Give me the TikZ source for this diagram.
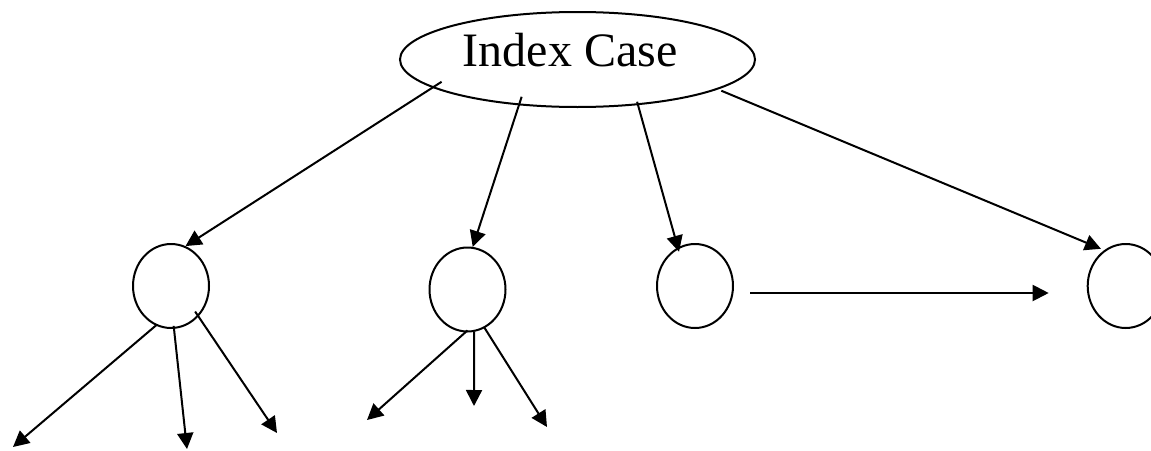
\documentclass[tikz,border=0pt]{standalone}
\usepackage{fontspec}
\setmainfont{Liberation Serif}
\usetikzlibrary{arrows.meta,shapes.geometric}
\begin{document}
\begin{tikzpicture}[x=1pt,y=-1pt,
  arr/.style={draw, line width=2pt, -{Triangle[length=16pt,width=16pt]}},
  bub/.style={draw, ellipse, line width=2pt, minimum width=76pt, minimum height=84pt, inner sep=0pt},
  topcase/.style={draw, ellipse, line width=2pt, minimum width=355pt, minimum height=95pt, inner sep=0pt},
  lbl/.style={font=\fontsize{48}{58}\selectfont, anchor=base, inner sep=0pt}]
\useasboundingbox (0,0) rectangle (1151,450);
\node[topcase] (ic) at (577.5,59.5) {};
\node[lbl] (ict) at (570,66.7) {Index Case};
\node[bub] (c1) at (171,286) {};
\node[bub] (c2) at (467.5,289.5) {};
\node[bub] (c3) at (695,286) {};
\node[bub] (c4) at (1125.7,286) {};
\coordinate (e1) at (13,447);
\coordinate (e2) at (187,449);
\coordinate (e3) at (277,433);
\coordinate (e4) at (367,420);
\coordinate (e5) at (474,406);
\coordinate (e6) at (547,427);
\draw[arr, shorten <=-11pt] (ic.191) -- (c1.70);
\draw[arr, shorten <=-9pt] (ic.218) -- (c2.83);
\draw[arr, shorten <=-3.5pt, shorten >=-4.5pt] (ic.323) -- (c3.114);
\draw[arr, shorten <=3.5pt, shorten >=3.5pt] (ic.348) -- (c4.121);
\draw[arr, shorten <=-1pt] (c1.249) -- (e1);
\draw[arr, shorten <=-3pt] (c1.274) -- (e2);
\draw[arr, shorten <=-6pt] (c1.312) -- (e3);
\draw[arr, shorten <=-3pt] (c2.267) -- (e4);
\draw[arr] (c2.279) -- (e5);
\draw[arr, shorten <=-1pt] (c2.294) -- (e6);
\draw[arr] ([xshift=16pt,yshift=-7pt]c3.east) -- ([xshift=-38pt,yshift=-7pt]c4.west);
\end{tikzpicture}
\end{document}
